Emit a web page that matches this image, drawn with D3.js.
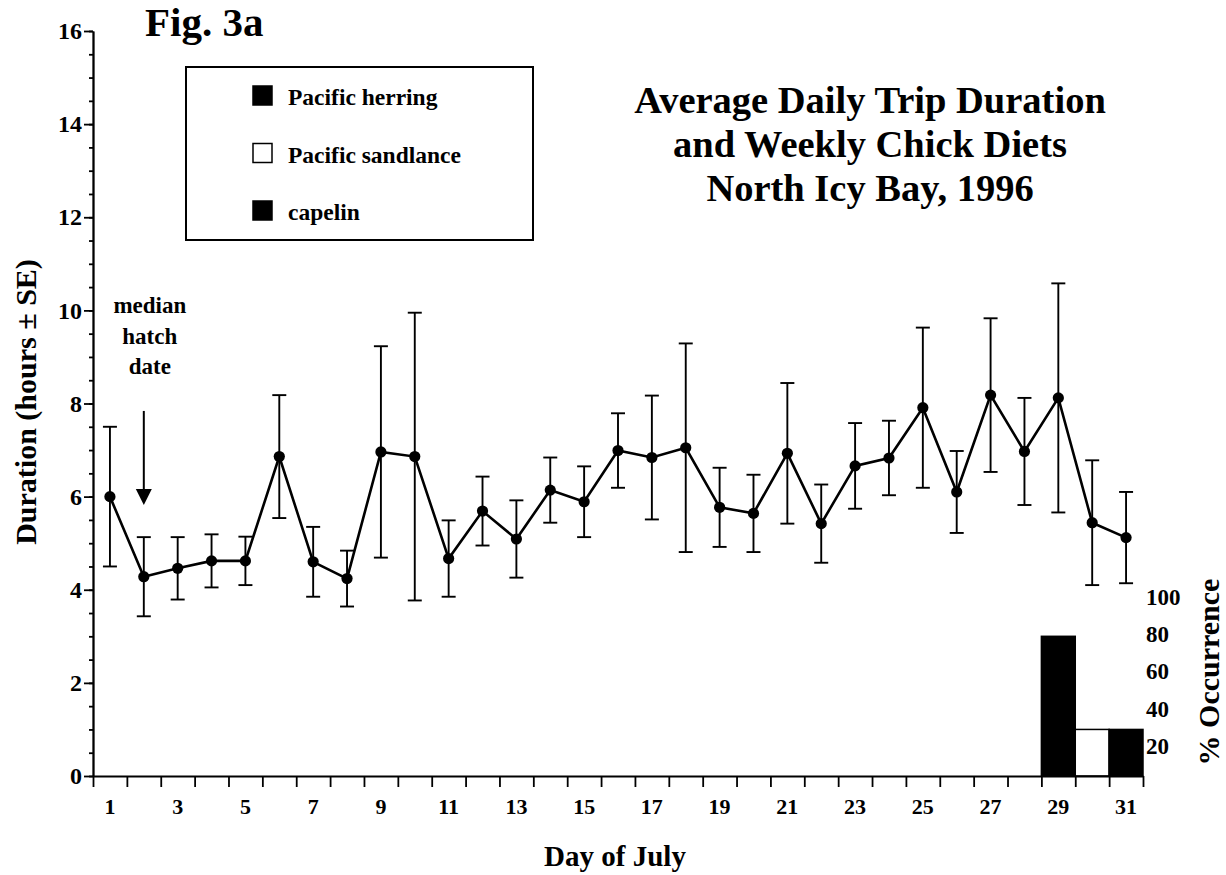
<!DOCTYPE html>
<meta charset="utf-8">
<style>

body {
  margin: 0;
  background: #fff;
}

text {
  font-family: "Liberation Serif", "Times New Roman", Times, serif;
  font-weight: bold;
  fill: #000;
}

.axis path,
.axis line {
  stroke: #000;
  stroke-width: 1.8px;
}

.axis text {
  font-size: 24px;
}

</style>
<svg width="1226" height="875"></svg>
<script src="https://d3js.org/d3.v7.min.js"></script>
<script>

// day of July
var days = [1, 2, 3, 4, 5, 6, 7, 8, 9, 10, 11, 12, 13, 14, 15, 16,
            17, 18, 19, 20, 21, 22, 23, 24, 25, 26, 27, 28, 29, 30, 31];

// average daily trip duration (hours)
var means = [6.00, 4.28, 4.46, 4.62, 4.62, 6.86, 4.60, 4.24, 6.96, 6.86, 4.67,
             5.69, 5.09, 6.14, 5.89, 6.99, 6.84, 7.05, 5.77, 5.64, 6.93, 5.42,
             6.66, 6.83, 7.91, 6.10, 8.18, 6.97, 8.12, 5.44, 5.12];

// standard error (hours)
var se = [1.50, 0.85, 0.67, 0.57, 0.52, 1.32, 0.75, 0.60, 2.27, 3.09, 0.82,
          0.74, 0.83, 0.70, 0.76, 0.80, 1.33, 2.24, 0.85, 0.83, 1.51, 0.84,
          0.92, 0.80, 1.72, 0.88, 1.65, 1.15, 2.46, 1.34, 0.98];

// weekly chick diet (% occurrence)
var dietSpecies = ["Pacific herring", "Pacific sandlance", "capelin"];
var dietDays = [29, 30, 31];
var dietPct = [75, 25, 25];

var yTicks = [0, 2, 4, 6, 8, 10, 12, 14, 16];
var xTickLabels = [1, 3, 5, 7, 9, 11, 13, 15, 17, 19, 21, 23, 25, 27, 29, 31];
var pctTicks = [20, 40, 60, 80, 100];

var hatchDay = 2;

var svg = d3.select("svg");

var x = d3.scaleLinear()
    .domain([0.5, 31.5])
    .range([93, 1143]);

var y = d3.scaleLinear()
    .domain([0, 16])
    .range([776, 31]);

var pct = d3.scaleLinear()
    .domain([0, 100])
    .range([y(0), y(4)]);

var z = d3.scaleOrdinal()
    .domain(dietSpecies)
    .range(["#000", "#fff", "#000"]);

var data = days.map(function(d, i) {
    return {day: d, mean: means[i], se: se[i]};
});

var diet = dietDays.map(function(d, i) {
    return {day: d, species: dietSpecies[i], pct: dietPct[i]};
});

// diet bars
svg.append("g")
    .selectAll("rect")
    .data(diet)
    .enter().append("rect")
    .attr("x", function(d) { return x(d.day - 0.5); })
    .attr("y", function(d) { return pct(d.pct); })
    .attr("width", function(d) { return x(d.day + 0.5) - x(d.day - 0.5); })
    .attr("height", function(d) { return pct(0) - pct(d.pct); })
    .attr("fill", function(d) { return z(d.species); })
    .attr("stroke", "#000")
    .attr("stroke-width", 1.5);

// axes
svg.append("g")
    .attr("class", "axis")
    .attr("transform", "translate(" + x.range()[0] + ",0)")
    .call(d3.axisLeft(y).tickValues(d3.range(0, 16.01, 0.5)).tickSize(4).tickSizeOuter(0).tickFormat(""));

svg.append("g")
    .attr("class", "axis")
    .attr("transform", "translate(" + x.range()[0] + ",0)")
    .call(d3.axisLeft(y).tickValues(yTicks).tickSize(9).tickSizeOuter(0).tickPadding(2));

svg.append("g")
    .attr("class", "axis")
    .attr("transform", "translate(0," + y(0) + ")")
    .call(d3.axisBottom(x).tickValues(d3.range(0.5, 31.6, 1)).tickSize(11).tickSizeOuter(0).tickFormat(""));

svg.append("g")
    .selectAll("text")
    .data(xTickLabels)
    .enter().append("text")
    .attr("x", function(d) { return x(d); })
    .attr("y", y(0) + 38)
    .attr("text-anchor", "middle")
    .style("font-size", "22px")
    .text(function(d) { return d; });

// right % axis labels
svg.append("g")
    .selectAll("text")
    .data(pctTicks)
    .enter().append("text")
    .attr("x", x.range()[1] + 3)
    .attr("y", function(d) { return pct(d) + 15; })
    .style("font-size", "23px")
    .text(function(d) { return d; });

// error bars
var bars = svg.append("g")
    .selectAll("g")
    .data(data)
    .enter().append("g")
    .attr("stroke", "#000")
    .attr("stroke-width", 1.9);

bars.append("line")
    .attr("x1", function(d) { return x(d.day); })
    .attr("x2", function(d) { return x(d.day); })
    .attr("y1", function(d) { return y(d.mean - d.se); })
    .attr("y2", function(d) { return y(d.mean + d.se); });

bars.append("line")
    .attr("x1", function(d) { return x(d.day) - 7; })
    .attr("x2", function(d) { return x(d.day) + 7; })
    .attr("y1", function(d) { return y(d.mean + d.se); })
    .attr("y2", function(d) { return y(d.mean + d.se); });

bars.append("line")
    .attr("x1", function(d) { return x(d.day) - 7; })
    .attr("x2", function(d) { return x(d.day) + 7; })
    .attr("y1", function(d) { return y(d.mean - d.se); })
    .attr("y2", function(d) { return y(d.mean - d.se); });

// mean line and points
var line = d3.line()
    .x(function(d) { return x(d.day); })
    .y(function(d) { return y(d.mean); });

svg.append("path")
    .datum(data)
    .attr("fill", "none")
    .attr("stroke", "#000")
    .attr("stroke-width", 2.6)
    .attr("d", line);

svg.append("g")
    .selectAll("circle")
    .data(data)
    .enter().append("circle")
    .attr("cx", function(d) { return x(d.day); })
    .attr("cy", function(d) { return y(d.mean); })
    .attr("r", 5.6)
    .attr("fill", "#000");

// median hatch date arrow
var tip = y(5.82);
svg.append("line")
    .attr("x1", x(hatchDay))
    .attr("x2", x(hatchDay))
    .attr("y1", y(7.84))
    .attr("y2", tip - 10)
    .attr("stroke", "#000")
    .attr("stroke-width", 2);

svg.append("path")
    .attr("d", "M" + (x(hatchDay) - 8) + "," + (tip - 16) + "L" + (x(hatchDay) + 8) + "," + (tip - 16) + "L" + x(hatchDay) + "," + tip + "Z")
    .attr("fill", "#000");

svg.append("g")
    .selectAll("text")
    .data(["median", "hatch", "date"])
    .enter().append("text")
    .attr("x", x(hatchDay) + 6)
    .attr("y", function(d, i) { return 313 + i * 30.5; })
    .attr("text-anchor", "middle")
    .style("font-size", "23px")
    .text(function(d) { return d; });

// legend
svg.append("rect")
    .attr("x", 186)
    .attr("y", 67)
    .attr("width", 347)
    .attr("height", 173)
    .attr("fill", "none")
    .attr("stroke", "#000")
    .attr("stroke-width", 2);

var legend = svg.selectAll(".legend")
    .data(dietSpecies)
    .enter().append("g")
    .attr("class", "legend")
    .attr("transform", function(d, i) {
        return "translate(0," + (105 + i * 57.5) + ")";
    });

legend.append("rect")
    .attr("x", 253)
    .attr("y", -19)
    .attr("width", 19)
    .attr("height", 19)
    .attr("fill", z)
    .attr("stroke", "#000")
    .attr("stroke-width", 1.5);

legend.append("text")
    .attr("x", 288)
    .attr("y", 0)
    .style("font-size", "23.5px")
    .text(function(d) { return d; });

// titles
svg.append("text")
    .attr("x", 145)
    .attr("y", 36)
    .style("font-size", "41px")
    .text("Fig. 3a");

svg.append("g")
    .selectAll("text")
    .data(["Average Daily Trip Duration", "and Weekly Chick Diets", "North Icy Bay, 1996"])
    .enter().append("text")
    .attr("x", 870)
    .attr("y", function(d, i) { return 113 + i * 44; })
    .attr("text-anchor", "middle")
    .style("font-size", "38.5px")
    .text(function(d) { return d; });

svg.append("text")
    .attr("transform", "translate(36,402) rotate(-90)")
    .attr("text-anchor", "middle")
    .style("font-size", "30px")
    .text("Duration (hours \u00b1 SE)");

svg.append("text")
    .attr("x", 615)
    .attr("y", 866)
    .attr("text-anchor", "middle")
    .style("font-size", "29px")
    .text("Day of July");

svg.append("text")
    .attr("transform", "translate(1219,672) rotate(-90)")
    .attr("text-anchor", "middle")
    .style("font-size", "30px")
    .text("% Occurrence");

</script>
